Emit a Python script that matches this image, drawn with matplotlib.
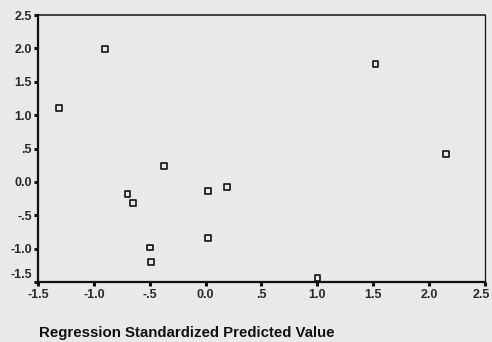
import numpy as np
import matplotlib.pyplot as plt
import matplotlib.transforms as mtransforms

# values read from the scanned scatterplot
pred = [-1.31, -0.90, -0.70, -0.65, -0.50, -0.49, -0.37, 0.02, 0.19, 0.02, 1.00, 1.52, 2.15]
resid = [1.11, 1.99, -0.18, -0.32, -0.98, -1.20, 0.24, -0.14, -0.08, -0.84, -1.44, 1.77, 0.42]

xticks = [-1.5, -1.0, -0.5, 0.0, 0.5, 1.0, 1.5, 2.0, 2.5]
xlabels = ["-1.5", "-1.0", "-.5", "0.0", ".5", "1.0", "1.5", "2.0", "2.5"]
yticks = [-1.5, -1.0, -0.5, 0.0, 0.5, 1.0, 1.5, 2.0, 2.5]
ylabels = ["-1.5", "-1.0", "-.5", "0.0", ".5", "1.0", "1.5", "2.0", "2.5"]

bg = "#e9e9e7"
fig = plt.figure(figsize=(4.92, 3.42), dpi=100, facecolor=bg)
ax = fig.add_axes([0.0772, 0.1754, 0.9086, 0.7806], facecolor=bg)

ax.scatter(pred, resid, marker="s", s=16, facecolors="none",
           edgecolors="#111111", linewidths=1.2, zorder=3)

ax.set_xlim(-1.5, 2.5)
ax.set_ylim(-1.5, 2.5)

ax.set_xticks(xticks)
ax.set_xticklabels(xlabels)
ax.set_yticks(yticks)
ax.set_yticklabels(ylabels)

ax.tick_params(direction="out", length=3, width=2.2, color="#111111",
               labelsize=9, pad=2, labelcolor="#2a2a2a")
ax.tick_params(axis="y", pad=1.5)
for lbl in ax.get_xticklabels() + ax.get_yticklabels():
    lbl.set_family("Liberation Sans")
    lbl.set_fontweight("bold")

# SPSS lifts the bottom y label a little above the axis line
low = ax.get_yticklabels()[0]
low.set_transform(low.get_transform() +
                  mtransforms.ScaledTranslation(0, 6 / 72, fig.dpi_scale_trans))
# keep the last x label inside the figure
last = ax.get_xticklabels()[-1]
last.set_transform(last.get_transform() +
                   mtransforms.ScaledTranslation(-3 / 72, 0, fig.dpi_scale_trans))

ax.spines["left"].set_linewidth(1.6)
ax.spines["bottom"].set_linewidth(1.6)
ax.spines["top"].set_linewidth(1.1)
ax.spines["right"].set_linewidth(0.9)
for s in ax.spines.values():
    s.set_color("#111111")

fig.text(0.079, 0.015, "Regression Standardized Predicted Value",
         family="Liberation Sans", fontweight="bold", fontsize=10.8,
         color="#111111", ha="left", va="baseline")

fig.savefig("out.png", dpi=100, facecolor=bg)
